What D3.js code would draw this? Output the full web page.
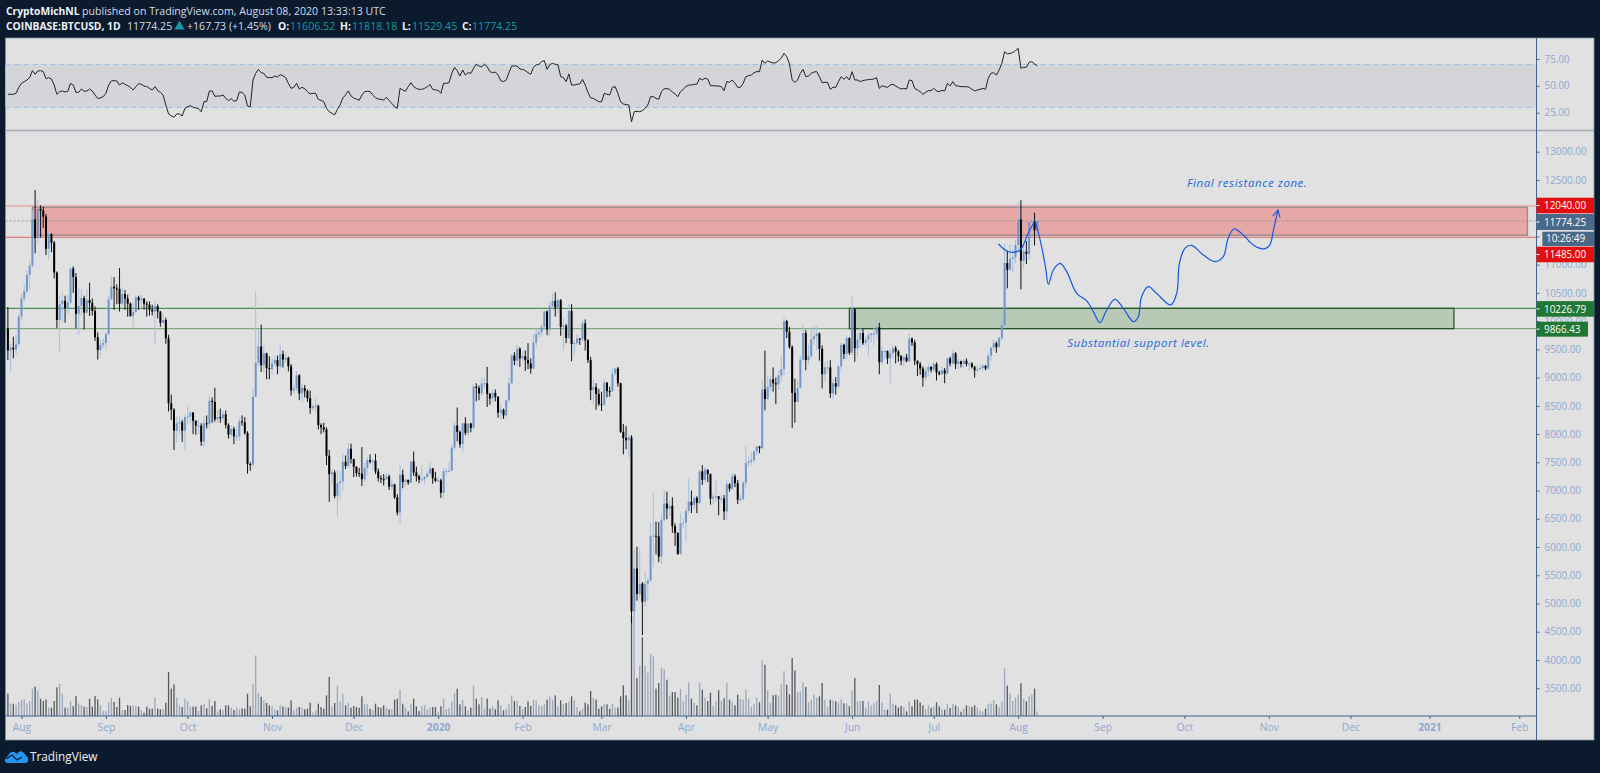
<!DOCTYPE html>
<html>
<head>
<meta charset="utf-8">
<title>BTCUSD</title>
<script src="https://cdn.jsdelivr.net/npm/d3@7"></script>
<style>
  html, body { margin: 0; padding: 0; background: #0b1a2c; }
  svg { display: block; }
  text { font-family: "Open Sans", sans-serif; }
</style>
</head>
<body>
<div id="chart"></div>
<script>
// daily candles, first one is 27 Jul 2019, last one is 8 Aug 2020
const firstDay = Date.UTC(2019, 6, 27);
const firstOpen = 9870;

const closes = [
  9480,9530,9500,9590,10080,10400,10530,10820,10980,11800,
  11470,11990,11960,11850,11280,11540,11390,10860,10020,10300,
  10360,10230,10330,10930,10780,10130,10270,10410,10150,10370,
  10320,10180,9715,9490,9580,9610,9770,10385,10610,10580,
  10570,10310,10480,10400,10310,10090,10160,10420,10370,10400,
  10310,10290,10200,10170,10265,10170,9970,10020,9695,8545,
  8430,8060,8190,8210,8060,8300,8310,8380,8235,8150,
  8150,7865,8190,8180,8590,8570,8260,8300,8280,8350,
  8160,7990,8090,7960,7960,8225,8210,8020,7470,7460,
  8660,9260,9550,9220,9430,9170,9150,9250,9310,9200,
  9415,9320,9350,9200,8770,8810,9040,8720,8815,8760,
  8635,8460,8490,8500,8160,8120,8080,7615,7290,7320,
  6900,7130,7160,7510,7435,7740,7560,7420,7310,7300,
  7200,7400,7540,7510,7530,7340,7220,7200,7195,7250,
  7065,7110,6880,6610,7280,7150,7190,7140,7515,7320,
  7250,7195,7200,7240,7300,7390,7220,7170,7180,6960,
  7340,7350,7350,7760,8150,8040,7820,8190,8020,8185,
  8110,8840,8815,8720,8900,8900,8710,8630,8730,8660,
  8380,8430,8330,8600,8900,9390,9300,9510,9340,9380,
  9310,9250,9160,9620,9770,9800,9900,10170,9850,10270,
  10360,10240,10370,9900,9920,9700,10180,9595,9610,9690,
  9680,9960,9660,9310,8780,8830,8710,8530,8520,8910,
  8760,8755,9070,9160,8900,8040,7930,7890,7940,4860,
  5620,5170,5350,5030,5350,5410,6190,6200,6190,5830,
  6480,6770,6680,6730,6370,6250,5880,6420,6430,6640,
  6800,6740,6870,6780,7340,7190,7370,7290,6860,6890,
  6900,6850,6860,6630,7110,7030,7250,7130,6840,6850,
  7140,7490,7510,7540,7690,7780,7750,8790,8620,8830,
  8970,8900,8880,9040,9150,10000,9810,9540,8730,8570,
  8820,9320,9790,9310,9380,9680,9730,9780,9510,9060,
  9180,9180,8720,8900,8840,9200,9580,9420,9700,9440,
  10210,9520,9670,9790,9610,9670,9750,9780,9780,9890,
  9270,9470,9470,9340,9430,9520,9460,9380,9300,9360,
  9290,9690,9620,9300,9240,9160,9000,9120,9190,9140,
  9240,9090,9060,9130,9070,9340,9250,9430,9240,9290,
  9240,9300,9240,9250,9190,9130,9150,9170,9210,9160,
  9390,9530,9610,9540,9700,9930,11030,10910,11100,11130,
  11350,11800,11070,11230,11190,11750,11770,11606.52,11774.25
];

const highs = [
  10250,9600,9725,9750,10130,10480,10660,10900,11060,11950,
  12320,12145,12050,12030,11900,11600,11560,11420,10880,10450,
  10500,10450,10470,10950,10970,10850,10600,10550,10450,10560,
  10680,10400,10260,9800,9680,9690,9810,10450,10800,10780,
  10650,10940,10600,10550,10470,10330,10330,10450,10450,10460,
  10400,10350,10350,10290,10340,10300,10180,10130,10060,9760,
  8700,8460,8330,8320,8250,8340,8510,8400,8390,8240,
  8250,8190,8320,8330,8670,8650,8820,8430,8450,8410,
  8420,8190,8150,8130,8100,8290,8330,8300,8050,7500,
  8800,10520,9840,9940,9570,9440,9380,9330,9370,9390,
  9590,9480,9450,9370,9240,8880,9120,9060,8880,8870,
  8790,8770,8530,8650,8520,8190,8200,8120,7720,7370,
  7360,7350,7340,7650,7620,7840,7830,7560,7430,7400,
  7770,7490,7590,7640,7560,7650,7390,7270,7290,7310,
  7280,7200,7120,6935,7440,7370,7220,7190,7520,7690,
  7425,7280,7440,7270,7350,7510,7400,7330,7250,7210,
  7400,7400,7500,7800,8210,8470,8060,8200,8300,8200,
  8200,8880,8900,8860,9010,8990,9190,8730,8790,8790,
  8670,8520,8450,8610,9000,9420,9450,9570,9540,9470,
  9480,9610,9340,9780,9870,9870,9950,10190,10190,10350,
  10490,10510,10400,10390,10050,9950,10300,10300,9650,9770,
  9700,10010,10030,9680,9370,8970,8900,8800,8750,8960,
  8920,8840,9160,9180,9190,8910,8180,8140,7990,7980,
  5960,6006,5980,5380,5580,5460,6430,6980,6450,6440,
  6600,7000,6980,6810,6880,6420,6260,6600,6520,6700,
  7210,7000,6910,6900,7370,7450,7410,7370,7300,6950,
  7180,6900,6930,6920,7180,7130,7300,7290,7190,6940,
  7170,7780,7600,7690,7710,7780,7790,8960,9480,9040,
  9020,9180,9000,9130,9400,10060,10020,9900,9570,8980,
  8950,9400,9940,9840,9580,9890,9930,9910,9800,9570,
  9270,9300,9310,8970,9010,9230,9620,9600,9740,9710,
  10430,10230,9790,9880,9860,9730,9800,9800,9880,9990,
  9970,9550,9490,9480,9500,9580,9560,9490,9400,9400,
  9420,9780,9710,9670,9300,9280,9200,9180,9230,9200,
  9280,9270,9120,9200,9170,9360,9370,9480,9450,9340,
  9300,9340,9340,9280,9270,9210,9190,9220,9240,9220,
  9430,9540,9670,9640,9730,10150,11380,11250,11350,11280,
  11450,12100,12140,11470,11420,11790,11900,11920,11818.18
];

const lows = [
  9310,9100,9341,9400,9570,10000,10350,10500,10570,10950,
  11200,11400,11480,11650,11170,11094,11220,10758,9873,9459,
  9980,9973,10120,10300,10500,9870,9760,10100,9850,10130,
  10090,10100,9650,9320,9390,9520,9500,9750,10380,10200,
  10300,10170,10280,10200,10079,10080,9880,10140,10200,10240,
  10200,10080,10100,10100,9577,10050,9900,9950,9600,8400,
  8250,7718,7850,8000,7860,7710,8170,8200,8000,7990,
  8000,7790,7770,8100,8100,8200,8220,8200,8200,8230,
  8100,7920,7940,7820,7870,7880,8150,7990,7300,7350,
  7420,8980,9200,9100,9080,8970,8970,9060,9200,9060,
  9150,9180,9260,9110,8680,8720,8760,8600,8560,8650,
  8570,8360,8420,8390,8080,8000,8030,7450,6800,7100,
  6860,6530,6845,7000,7380,7400,7480,7240,7250,7240,
  7080,7150,7280,7480,7370,7290,7160,7130,7090,7220,
  7010,7010,6850,6560,6420,7040,7080,7100,7130,7260,
  7160,7130,7160,7100,7220,7260,7120,7150,7150,6870,
  6860,7270,7320,7350,7720,7870,7760,7670,7980,7960,
  8030,8100,8580,8600,8670,8810,8480,8520,8560,8580,
  8290,8250,8270,8290,8560,8880,9220,9210,9190,9300,
  9120,9150,9070,9150,9530,9700,9720,9870,9750,9730,
  10250,10080,10130,9740,9480,9610,9680,9290,9390,9580,
  9580,9640,9480,9260,8600,8530,8430,8500,8410,8500,
  8650,8660,8750,9020,8840,8020,7640,7730,7590,4650,
  3850,5050,5100,4440,4950,5040,5380,5650,5870,5730,
  5700,6440,6490,6540,6250,6020,5860,5860,6330,6100,
  6590,6600,6670,6600,6770,7100,7150,7150,6750,6760,
  6800,6560,6780,6480,6480,6980,7020,7060,6760,6800,
  6820,7040,7420,7450,7480,7620,7660,7730,8420,8610,
  8760,8750,8530,8780,8930,9040,9700,9510,8110,8200,
  8560,8800,9300,9130,9230,9340,9580,9480,9300,8810,
  8930,9080,8640,8630,8700,8820,9110,9330,9330,9400,
  9410,9280,9380,9530,9580,9550,9370,9620,9570,9680,
  9060,9230,9320,9240,8890,9360,9250,9280,9220,9200,
  9270,9280,9560,9220,9030,9050,8840,8950,9010,9090,
  9100,8950,9040,9050,8900,9050,9200,9230,9150,9140,
  9180,9170,9200,9120,9160,9000,9090,9130,9110,9130,
  9150,9290,9470,9440,9530,9650,9910,10580,10900,10870,
  11020,11220,10560,10930,11010,11090,11550,11340,11529.45
];

// volume has no labels in the picture, so these are just relative heights
const volumes = [
  67,37,37,33,42,48,50,38,45,82,
  88,76,52,45,50,25,25,45,86,97,
  68,25,25,45,30,60,38,33,28,28,
  52,28,60,50,32,15,15,42,55,42,
  27,55,18,18,33,30,32,30,28,18,
  10,28,22,22,56,22,20,22,40,132,
  82,95,56,32,27,52,45,27,28,28,
  15,32,37,23,50,30,45,13,20,18,
  32,32,25,18,25,20,23,22,67,29,
  95,182,69,57,47,39,32,29,19,17,
  32,29,27,25,47,17,24,27,25,20,
  22,40,10,17,37,27,22,62,117,29,
  39,92,44,67,32,40,25,30,27,25,
  59,35,35,22,17,37,27,25,32,25,
  20,20,49,52,79,37,25,14,37,52,
  29,15,29,32,20,25,27,27,12,29,
  51,20,25,44,69,82,35,49,29,17,
  25,92,52,35,57,22,52,22,29,20,
  47,32,17,22,35,62,45,45,30,20,
  27,44,30,49,47,32,30,35,49,59,
  49,62,30,47,35,39,44,59,47,27,
  14,22,40,35,75,54,49,22,29,37,
  35,22,37,25,25,59,92,62,49,300,
  320,114,151,236,151,130,186,178,82,99,
  145,140,109,62,72,72,55,82,44,64,
  101,52,39,32,99,79,55,45,70,30,
  45,77,45,53,99,49,43,32,64,51,
  49,79,52,27,35,55,41,167,154,77,
  39,62,64,59,95,135,94,65,174,137,
  71,74,101,87,41,49,64,54,59,99,
  49,27,49,47,44,40,50,38,38,29,
  77,114,44,45,45,24,44,32,39,45,
  93,41,19,19,67,38,32,25,30,27,
  14,44,29,49,49,41,32,20,32,25,
  29,41,29,21,19,37,24,37,32,27,
  13,22,32,29,27,32,25,17,14,22,
  35,38,49,35,27,44,143,91,67,45,
  55,64,98,51,44,59,64,82,14
];

const rsi = [
  42.1,42.1,42.1,43,48.6,52.3,53.9,55.4,57.6,64.1,
  60.7,63.8,64.1,63.2,56.6,57.6,56.3,50.7,42.1,44.6,
  45.2,44.2,44.9,52.3,50.7,43.9,43.9,47,44.9,45.2,
  47,45.2,41.4,38.3,38.7,39.9,43,50.7,54.5,54.8,
  54.5,50.7,52.9,51.4,50.1,48.6,46.1,49.2,52,51.4,
  49.8,49.2,47.6,46.1,49.2,45.5,43.9,41.4,32.2,23.8,
  22.2,20.7,23.8,23.8,21.9,29,30.6,31.5,30,29.4,
  28.7,25.9,35.2,35.2,45.2,45.2,40.2,40.5,40.5,41.4,
  38.3,36.2,38,35.6,36.2,44.2,43.9,41.4,31.2,30.6,
  55.4,61.6,65.3,62.2,61.6,57.9,57.6,57.6,59.1,58.2,
  60.4,59.4,57.6,52.3,47.6,48.6,52.3,47,48.6,47.3,
  44.6,42.4,43,43,37.4,36.5,35.2,29,25.9,24.4,
  22.9,28.1,32.2,38.7,41.4,45.2,40.5,38.7,37.7,36.5,
  41.4,44.6,44.9,44.6,41.4,38.9,37.7,37.4,36.8,39.3,
  36.2,33.7,30.6,29,47.6,46.1,44.9,49.2,52.9,49.2,
  47.6,46.7,46.7,47.6,49.2,51.1,46.7,46.1,45.8,43,
  52.3,52.3,52.9,61.6,67.2,64.1,59.1,64.7,60,62.2,
  61.6,66.3,70,68.4,67.8,70,67.8,63.2,62.2,62.8,
  60,54.8,53.9,55.4,62.2,68.4,68.4,68.4,65.6,65.3,
  64.1,62.2,60.7,67.2,69.4,70,72.5,73.4,65.3,69.7,
  70.9,70,69.4,58.5,57.6,53.9,61,50.7,50.7,51.4,
  51.7,56,50.7,43.9,38.7,38.3,36.8,35.2,35.2,43,
  42.1,41.4,48.6,49.2,43,35.2,33.1,32.5,32.2,16.6,
  25.9,26.3,25.9,26.9,29,32.2,39.9,39.9,38.3,37.4,
  44.6,47.3,47.3,46.7,44.2,42.4,39.9,44.6,46.7,49.2,
  50.7,50.7,51.4,51.4,57,55.4,57,56.3,50.1,50.1,
  49.8,49.8,49.2,45.5,53.9,53.2,55.4,52.3,48.6,48.6,
  52.3,58.5,59.4,60,62.2,63.2,63.2,74,70.9,73.1,
  72.1,71.2,71.5,73.4,75.6,80.2,77.1,70.3,55.4,53.2,
  55.4,61.6,65.3,58.5,59.1,61.6,62.8,63.2,58.5,52.9,
  53.2,53.2,46.7,48.6,48.6,53.9,58.5,56,58.5,55.4,
  63.2,55.4,55.4,53.9,54.8,55.4,55.7,56,56.3,57.6,
  47.6,50.1,49.2,48.6,50.7,51.4,49.8,48.3,47,47.6,
  47,55.4,54.8,47.6,46.1,44.6,42.1,43.9,45.5,45.5,
  47.6,45.2,44.6,45.8,45.2,52.3,49.8,53.9,50.1,49.8,
  49.2,49.2,49.2,48.6,46.7,45.2,46.1,46.7,47.6,46.7,
  57,61.6,62.2,60,64.7,70.9,81.7,79.6,80.2,80.8,
  82.7,84.8,66.3,67.2,67.2,71.8,72.5,70.3,68.8
];

// hand drawn forecast: days after 1 Aug 2020 and price
const forecastDays = [-7.2,-4.8,-2.4,0.7,3.7,6.2,6.8,8.6,10,11.1,12.9,15.4,17.8,21.5,25.1,27.6,30,32.5,35.5,38.6,42.3,44.1,45.3,47.8,50.8,56,58.2,59.2,61.2,63.7,68,72.3,75.3,77.1,79.2,82,86.3,88.8,90.5,92.4,93.9,95.4];
const forecastPrices = [11366,11260,11218,11260,11555,11761,11673,11319,10964,10652,10905,11023,10876,10492,10362,10168,9973,10197,10386,10227,9991,10079,10433,10610,10492,10286,10492,11023,11289,11342,11171,11053,11141,11466,11631,11555,11348,11289,11280,11350,11650,11970];

const priceTicks = d3.range(3500, 13001, 500);
const rsiTicks = [25, 50, 75];
const rsiLevels = [30, 70];
const monthDates = [
  [2019,7,1,"Aug"],[2019,8,1,"Sep"],[2019,9,1,"Oct"],[2019,10,1,"Nov"],[2019,11,1,"Dec"],
  [2020,0,1,"2020"],[2020,1,1,"Feb"],[2020,2,1,"Mar"],[2020,3,1,"Apr"],[2020,4,1,"May"],
  [2020,5,1,"Jun"],[2020,6,1,"Jul"],[2020,7,1,"Aug"],[2020,8,1,"Sep"],[2020,9,1,"Oct"],
  [2020,10,1,"Nov"],[2020,11,1,"Dec"],[2020,11,30,"2021"],[2021,1,1,"Feb"]
];

const resistance = { top: 12015, bottom: 11520, lineTop: 12040, lineBottom: 11485, from: Date.UTC(2019, 7, 5), to: Date.UTC(2021, 1, 4) };
const support = { top: 10226.79, bottom: 9866.43, from: Date.UTC(2020, 4, 31), to: Date.UTC(2021, 0, 8) };
const lastPrice = 11774.25;

if (closes.length !== highs.length || closes.length !== lows.length || closes.length !== volumes.length || closes.length !== rsi.length)
  throw new Error("length " + [closes.length, highs.length, lows.length, volumes.length, rsi.length]);

const candles = closes.map((c, i) => ({
  date: new Date(firstDay + i * 864e5),
  open: i ? closes[i - 1] : firstOpen,
  high: highs[i],
  low: lows[i],
  close: c,
  volume: volumes[i],
  rsi: rsi[i]
}));

// layout
const width = 1600, height = 773;
const left = 5.5, right = 1536.5, outer = 1594;
const paneTop = 38, divider = 130.5, base = 716, paneBottom = 740;

const x = d3.scaleUtc().domain([new Date(Date.UTC(2019, 7, 1)), new Date(Date.UTC(2020, 7, 1))]).range([21.5, 1018.2]);
const y = d3.scaleLinear().domain([3500, 13000]).range([688.2, 151.7]);
const yRsi = d3.scaleLinear().domain([30, 70]).range([107.3, 64.3]);
const yVol = d3.scaleLinear().domain([0, 300]).range([base, base - 100]);

const upBody = "#6f96c9", upWick = "#a6bedd";
const axisText = "#8ea8cf", axisLine = "#44638f";
const redLabel = "#e20f0f", greenLabel = "#217733", slate = "#4a6888";
const drawBlue = "#1559e0";

const svg = d3.select("#chart").append("svg").attr("width", width).attr("height", height);

svg.append("rect").attr("width", width).attr("height", height).attr("fill", "#0b1a2c");
svg.append("rect").attr("x", left).attr("y", paneTop).attr("width", outer - left).attr("height", paneBottom - paneTop)
  .attr("fill", "#e1e1e1").attr("stroke", "#7f93ab").attr("stroke-width", 0.8);

// RSI pane
svg.append("rect").attr("x", left).attr("width", right - left)
  .attr("y", yRsi(70)).attr("height", yRsi(30) - yRsi(70)).attr("fill", "#d3d5d9");
svg.selectAll(".level").data(rsiLevels).enter().append("line")
  .attr("x1", left).attr("x2", right).attr("y1", d => yRsi(d)).attr("y2", d => yRsi(d))
  .attr("stroke", "#94bdec").attr("stroke-width", 1).attr("stroke-dasharray", "5 4");
svg.append("path").datum(candles)
  .attr("fill", "none").attr("stroke", "#222").attr("stroke-width", 1)
  .attr("d", d3.line().x(d => x(d.date)).y(d => yRsi(d.rsi)));
svg.append("line").attr("x1", left).attr("x2", outer).attr("y1", divider).attr("y2", divider)
  .attr("stroke", "#a2a8b6").attr("stroke-width", 1.6);

// zones and their price lines
const priceLine = (v, color) => svg.append("line")
  .attr("x1", left).attr("x2", right).attr("y1", y(v)).attr("y2", y(v))
  .attr("stroke", color).attr("stroke-width", 1);

priceLine(resistance.lineTop, "#ef8c8c");
priceLine(resistance.lineBottom, "#e25f5f");
priceLine(support.top, "#2c7d34");
priceLine(support.bottom, "#6b9f6e");

svg.append("rect")
  .attr("x", x(new Date(resistance.from))).attr("width", x(new Date(resistance.to)) - x(new Date(resistance.from)))
  .attr("y", y(resistance.top)).attr("height", y(resistance.bottom) - y(resistance.top))
  .attr("fill", "#e8a7a7").attr("stroke", "#9a8a8a").attr("stroke-width", 1.4);

svg.append("rect")
  .attr("x", x(new Date(support.from))).attr("width", x(new Date(support.to)) - x(new Date(support.from)))
  .attr("y", y(support.top)).attr("height", y(support.bottom) - y(support.top))
  .attr("fill", "#b8c9b6").attr("stroke", "#1c4f24").attr("stroke-width", 1.2);

svg.append("line").attr("x1", left).attr("x2", right).attr("y1", y(lastPrice)).attr("y2", y(lastPrice))
  .attr("stroke", "#8f8f9a").attr("stroke-width", 1).attr("stroke-dasharray", "2 2");

// volume
svg.append("g").selectAll("rect").data(candles).enter().append("rect")
  .attr("x", d => x(d.date) - 0.65)
  .attr("width", 1.3)
  .attr("y", d => yVol(d.volume))
  .attr("height", d => base - yVol(d.volume))
  .attr("fill", d => d.close >= d.open ? "#9aa7bc" : "#56585c");

// candles
const candle = svg.append("g").selectAll("g").data(candles).enter().append("g");
candle.append("line")
  .attr("x1", d => x(d.date)).attr("x2", d => x(d.date))
  .attr("y1", d => y(d.high)).attr("y2", d => y(d.low))
  .attr("stroke", d => d.close >= d.open ? upWick : "#111")
  .attr("stroke-width", 1);
candle.append("rect")
  .attr("x", d => x(d.date) - 1)
  .attr("width", 2)
  .attr("y", d => y(Math.max(d.open, d.close)))
  .attr("height", d => Math.max(1, Math.abs(y(d.open) - y(d.close))))
  .attr("fill", d => d.close >= d.open ? upBody : "#000");

// forecast drawing
svg.append("defs").append("marker")
  .attr("id", "arrow").attr("viewBox", "0 0 10 10").attr("refX", 9).attr("refY", 5)
  .attr("markerWidth", 9).attr("markerHeight", 9).attr("markerUnits", "userSpaceOnUse")
  .attr("orient", "auto")
  .append("path").attr("d", "M1,1 L9,5 L1,9").attr("fill", "none").attr("stroke", drawBlue).attr("stroke-width", 1.2);

const aug1 = Date.UTC(2020, 7, 1);
svg.append("path").datum(forecastDays.map((d, i) => [new Date(aug1 + d * 864e5), forecastPrices[i]]))
  .attr("fill", "none").attr("stroke", drawBlue).attr("stroke-width", 1.2)
  .attr("marker-end", "url(#arrow)")
  .attr("d", d3.line().x(d => x(d[0])).y(d => y(d[1])).curve(d3.curveCatmullRom.alpha(0.5)));

const note = (txt, date, price) => svg.append("text")
  .attr("x", x(date)).attr("y", y(price))
  .attr("fill", "#1d68d8").attr("font-size", 11.5).attr("font-style", "italic").attr("letter-spacing", 0.55)
  .text(txt);
note("Final resistance zone.", new Date(Date.UTC(2020, 9, 2)), 12375);
note("Substantial support level.", new Date(Date.UTC(2020, 7, 19)), 9542);

// axes
const priceAxis = svg.append("g").attr("transform", `translate(${right},0)`)
  .call(d3.axisRight(y).tickValues(priceTicks).tickSize(3).tickPadding(5).tickFormat(d3.format(".2f")));
const rsiAxis = svg.append("g").attr("transform", `translate(${right},0)`)
  .call(d3.axisRight(yRsi).tickValues(rsiTicks).tickSize(3).tickPadding(5).tickFormat(d3.format(".2f")));
const timeAxis = svg.append("g").attr("transform", `translate(0,${base})`)
  .call(d3.axisBottom(x)
    .tickValues(monthDates.map(d => new Date(Date.UTC(d[0], d[1], d[2]))))
    .tickSize(3).tickPadding(5)
    .tickFormat((d, i) => monthDates[i][3]));

[priceAxis, rsiAxis, timeAxis].forEach(a => {
  a.select(".domain").remove();
  a.selectAll("line").attr("stroke", axisLine);
  a.selectAll("text").attr("fill", axisText).attr("font-size", 9.9).style("font-family", '"Open Sans", sans-serif');
});
timeAxis.selectAll("text").attr("font-size", 10.3).attr("font-weight", (d, i) => /^20/.test(monthDates[i][3]) ? 700 : 400);

svg.append("line").attr("x1", right).attr("x2", right).attr("y1", paneTop).attr("y2", paneBottom)
  .attr("stroke", axisLine).attr("stroke-width", 1);
svg.append("line").attr("x1", left).attr("x2", right).attr("y1", base).attr("y2", base)
  .attr("stroke", axisLine).attr("stroke-width", 1);

// price labels on the axis, nudged apart the way the platform stacks them
const labels = [
  { v: 12040, text: "12040.00", fill: redLabel, x1: outer, h: 15.6, nudge: -0.4 },
  { v: 11485, text: "11485.00", fill: redLabel, x1: outer, h: 15.6, nudge: 17.2 },
  { v: 10226.79, text: "10226.79", fill: greenLabel, x1: outer, h: 15.6, nudge: 0.6 },
  { v: 9866.43, text: "9866.43", fill: greenLabel, x1: 1588, h: 15, nudge: 0.5 },
  { v: lastPrice, text: "11774.25", fill: slate, x1: outer, h: 16, nudge: 1.1 }
];
labels.forEach(l => {
  let cy = y(l.v) + l.nudge;
  svg.append("rect").attr("x", right).attr("y", cy - l.h / 2).attr("width", l.x1 - right).attr("height", l.h).attr("fill", l.fill);
  svg.append("line").attr("x1", right).attr("x2", right + 3).attr("y1", cy).attr("y2", cy).attr("stroke", "#fff");
  svg.append("text").attr("x", 1544).attr("y", cy + 3.6).attr("fill", "#fff").attr("font-size", 9.9).text(l.text);
});
svg.append("rect").attr("x", 1542.3).attr("y", 231.7).attr("width", outer - 1542.3).attr("height", 14.3).attr("fill", slate);
svg.append("text").attr("x", 1546).attr("y", 242.4).attr("fill", "#fff").attr("font-size", 9.9).text("10:26:49");

// header text
const head = (txt, px, py, fill, weight) => svg.append("text")
  .attr("x", px).attr("y", py).attr("fill", fill)
  .attr("font-size", weight ? 10.3 : 10.6).attr("font-weight", weight || 400).text(txt);
const light = "#d3deec", teal = "#159aa3";
head("CryptoMichNL", 6, 15, "#eef3f9", 700);
head("published on TradingView.com, August 08, 2020 13:33:13 UTC", 82, 15, light);
head("COINBASE:BTCUSD, 1D", 6, 30, "#eef3f9", 700);
head("11774.25", 127, 30, light);
svg.append("path").attr("d", d3.symbol(d3.symbolTriangle, 46)()).attr("transform", "translate(179.5,26.5)").attr("fill", teal);
head("+167.73 (+1.45%)", 187, 30, light);
head("O:", 278, 30, "#eef3f9", 700);
head("11606.52", 290, 30, teal);
head("H:", 340, 30, "#eef3f9", 700);
head("11818.18", 352, 30, teal);
head("L:", 402, 30, "#eef3f9", 700);
head("11529.45", 412, 30, teal);
head("C:", 462, 30, "#eef3f9", 700);
head("11774.25", 472, 30, teal);

// logo
const logo = svg.append("g").attr("transform", "translate(5,750)");
logo.append("path").attr("fill", "#2196f3")
  .attr("d", "M0,9 L5,3 Q7,1 9,2 L12,4 Q14,0 18,2 L23,8 Q24,13 20,13 L3,13 Q-1,13 0,9 Z");
logo.append("path").attr("fill", "none").attr("stroke", "#0b1a2c").attr("stroke-width", 1.2)
  .attr("d", "M1,9 L7,5 L12,10 L17,7");
svg.append("text").attr("x", 30).attr("y", 761).attr("fill", "#f0f4f8").attr("font-size", 11.8).text("TradingView");
</script>
</body>
</html>
